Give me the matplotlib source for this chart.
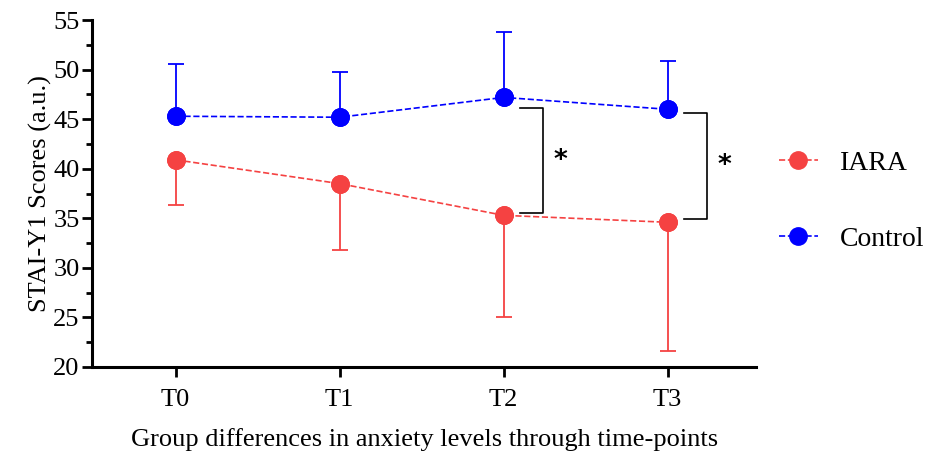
import matplotlib
matplotlib.use("Agg")
import matplotlib.pyplot as plt
from matplotlib.ticker import MultipleLocator

timepoints = ["T0", "T1", "T2", "T3"]
iara_mean = [40.9, 38.5, 35.3, 34.6]
iara_sd = [4.6, 6.7, 10.3, 13.0]
control_mean = [45.3, 45.2, 47.2, 46.0]
control_sd = [5.3, 4.6, 6.6, 4.9]
# significance brackets: (timepoint index, top value, bottom value)
sig_brackets = [(2, 46.1, 35.5), (3, 45.6, 34.9)]

plt.rcParams['font.family'] = ['Liberation Serif', 'DejaVu Serif']

fig = plt.figure(figsize=(9.44, 4.57), dpi=100)
ax = fig.add_axes([0.0975, 0.197, 0.7035, 0.759])

x = list(range(len(timepoints)))
red = '#f54242'
blue = '#0000ff'

ax.errorbar(x, iara_mean, yerr=[iara_sd, [0]*4], fmt='o', color=red, ecolor=red,
            ms=12.5, elinewidth=1.3, capsize=6, capthick=1.3, zorder=3)
ax.plot(x, iara_mean, '--', color=red, lw=1.2, marker='o', ms=12.5, label='IARA', zorder=3)
ax.errorbar(x, control_mean, yerr=[[0]*4, control_sd], fmt='o', color=blue, ecolor=blue,
            ms=12.5, elinewidth=1.3, capsize=6, capthick=1.3, zorder=3)
ax.plot(x, control_mean, '--', color=blue, lw=1.2, marker='o', ms=12.5, label='Control', zorder=3)

for idx, top, bot in sig_brackets:
    x0, x1 = idx + 0.10, idx + 0.24
    ax.plot([x0, x1, x1, x0], [top, top, bot, bot], color='black', lw=1.2)
    ax.text(idx + 0.345, (top + bot) / 2, '*', ha='center', va='center',
            fontsize=19, fontweight='bold', family='DejaVu Sans')

ax.set_xlim(-0.51, 3.54)
ax.set_ylim(20, 55)
ax.set_xticks(x)
ax.set_xticklabels(timepoints, fontsize=19)
ax.yaxis.set_major_locator(MultipleLocator(5))
ax.yaxis.set_minor_locator(MultipleLocator(2.5))
ax.tick_params(axis='y', which='major', length=7, width=2, labelsize=19, pad=2)
ax.tick_params(axis='y', which='minor', length=4, width=2)
ax.tick_params(axis='x', which='major', length=7, width=2, labelsize=19, pad=9)
for s in ['top', 'right']:
    ax.spines[s].set_visible(False)
for s in ['left', 'bottom']:
    ax.spines[s].set_linewidth(2.2)

ax.set_ylabel('STAI-Y1 Scores (a.u.)', fontsize=19, labelpad=1)
ax.set_xlabel('Group differences in anxiety levels through time-points', fontsize=19, labelpad=12)

handles, labels = ax.get_legend_handles_labels()
fig.legend(handles, labels, loc='center left', bbox_to_anchor=(0.825, 0.56),
           frameon=False, fontsize=20, handlelength=1.4, handletextpad=0.8,
           labelspacing=1.8, borderpad=0, borderaxespad=0)

fig.savefig('out.png', dpi=100)
